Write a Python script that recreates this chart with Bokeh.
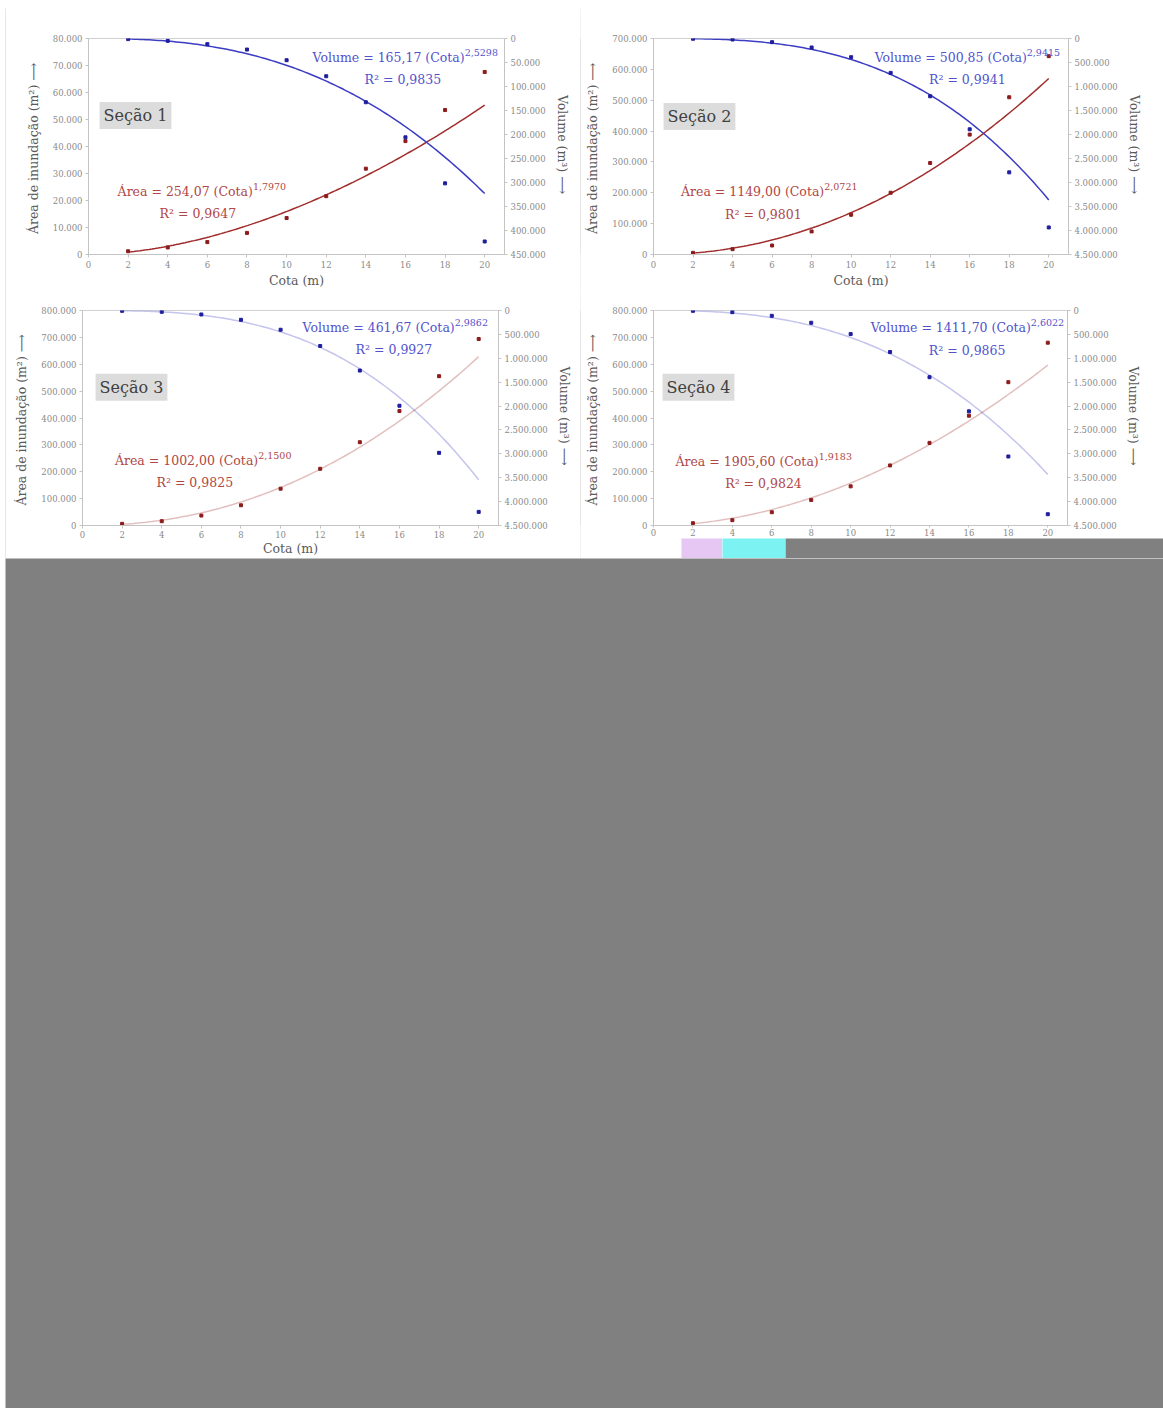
import numpy as np
from bokeh.plotting import figure
from bokeh.models import Range1d, LinearAxis, Label, FixedTicker, CustomJSTickFormatter
from bokeh.layouts import column, row
from bokeh.embed import file_html
from bokeh.resources import INLINE

# ---------------- data ----------------
cota = [2, 4, 6, 8, 10, 12, 14, 16, 18, 20]
secoes = ["Seção 1", "Seção 2", "Seção 3", "Seção 4"]

area_s1 = [1200, 2600, 4600, 8000, 13500, 21600, 31800, 42000, 53500, 67600]
vol_s1 = [1300, 4900, 11800, 23000, 45200, 78600, 132800, 205900, 301800, 422900]
area_s2 = [5400, 17300, 29200, 74700, 128800, 200200, 296500, 388500, 509600, 642700]
vol_s2 = [5000, 20900, 76500, 187800, 389500, 716400, 1203200, 1891800, 2789000, 3936500]
area_s3 = [6200, 16000, 37000, 75300, 137000, 211000, 309900, 425900, 555600, 693900]
vol_s3 = [7000, 27800, 83300, 194400, 402800, 743000, 1256900, 1993000, 2979000, 4215000]
area_s4 = [8600, 19800, 49400, 95100, 145700, 223500, 307400, 408600, 533300, 680200]
vol_s4 = [7000, 34700, 111100, 256900, 493000, 868000, 1395800, 2111000, 3055600, 4263800]

# power fits shown on the chart: y = coef * Cota^exp
area_coef = [254.07, 1149.00, 1002.00, 1905.60]
area_exp = [1.7970, 2.0721, 2.1500, 1.9183]
area_r2 = [0.9647, 0.9801, 0.9825, 0.9824]
vol_coef = [165.17, 500.85, 461.67, 1411.70]
vol_exp = [2.5298, 2.9415, 2.9862, 2.6022]
vol_r2 = [0.9835, 0.9941, 0.9927, 0.9865]

# axis extents and tick steps
x_ticks = [0, 2, 4, 6, 8, 10, 12, 14, 16, 18, 20]
area_max = [80000, 700000, 800000, 800000]
area_step = [10000, 100000, 100000, 100000]
vol_max = [450000, 4500000, 4500000, 4500000]
vol_step = [50000, 500000, 500000, 500000]

areas = [area_s1, area_s2, area_s3, area_s4]
vols = [vol_s1, vol_s2, vol_s3, vol_s4]

# ---------------- styles / layout ----------------
FONT = "DejaVu Serif"
BLUE_LINE, RED_LINE = "#3c3cc4", "#a02c2c"
BLUE_PT, RED_PT = "#1e1e9e", "#8c1c1c"
BLUE_TXT, RED_TXT = "#5252cc", "#b04646"
GRAY = "#808080"
RULE = "#cfcfcf"

# (width, height, (left, right, top, bottom) borders)
sizes = [
    (574, 282, (82, 76, 30, 36)),
    (582, 282, (72, 95, 30, 36)),
    (574, 268, (76, 82, 20, 32)),
    (582, 248, (72, 96, 20, 12)),
]
# label positions in data coords of the left axis
lay = [
    dict(sec=(0.56, 51500), vol=(18.99, 72970), vr2=(15.87, 64800), area=(8.30, 23300), ar2=(5.52, 15190)),
    dict(sec=(0.51, 447000), vol=(18.89, 638400), vr2=(15.88, 567100), area=(8.64, 204200), ar2=(5.56, 129600)),
    dict(sec=(0.66, 514800), vol=(18.79, 737000), vr2=(15.72, 655600), area=(8.87, 240700), ar2=(5.67, 159300)),
    dict(sec=(0.46, 514800), vol=(19.14, 737000), vr2=(15.91, 651900), area=(8.38, 237000), ar2=(5.58, 155600)),
]
faded = [False, False, True, True]

fmt = CustomJSTickFormatter(code=r"""
return Math.round(tick).toString().replace(/\B(?=(\d{3})+(?!\d))/g, '.');
""")


def br(v, nd):
    return f"{v:.{nd}f}".replace(".", ",")


def style_axis(ax, standoff):
    ax.axis_line_color = "#c4c4c4"
    ax.major_tick_line_color = "#c4c4c4"
    ax.minor_tick_line_color = None
    ax.major_tick_out = 3
    ax.major_tick_in = 0
    ax.major_label_standoff = 3
    ax.major_label_text_font = FONT
    ax.major_label_text_font_size = "8.5px"
    ax.major_label_text_color = "#8a8a8a"
    ax.axis_label_text_font = FONT
    ax.axis_label_text_font_size = "12.5px"
    ax.axis_label_text_font_style = "normal"
    ax.axis_label_text_color = "#5a5a5a"
    ax.axis_label_standoff = standoff


def make_panel(i):
    w, h, (bl, brr, bt, bb) = sizes[i]
    p = figure(width=w, height=h, x_range=Range1d(0, 21), y_range=Range1d(0, area_max[i]),
               toolbar_location=None, output_backend="svg",
               min_border_left=bl, min_border_right=brr, min_border_top=bt, min_border_bottom=bb)
    p.extra_y_ranges = {"vol": Range1d(start=vol_max[i], end=0)}
    p.xgrid.visible = False
    p.ygrid.visible = False
    p.outline_line_color = "#d0d0d0"
    p.background_fill_color = "white"

    # axes
    p.xaxis.ticker = FixedTicker(ticks=x_ticks)
    p.yaxis.ticker = FixedTicker(ticks=list(range(0, area_max[i] + 1, area_step[i])))
    p.yaxis.formatter = fmt
    p.yaxis.axis_label = "Área de inundação (m²)  ⟶"
    if i < 3:
        p.xaxis.axis_label = "Cota (m)"
    right = LinearAxis(y_range_name="vol",
                       ticker=FixedTicker(ticks=list(range(0, vol_max[i] + 1, vol_step[i]))),
                       formatter=fmt, axis_label="Volume (m³)  ⟶")
    p.add_layout(right, "right")
    style_axis(p.xaxis[0], 2)
    style_axis(p.yaxis[0], 9)
    style_axis(right, 6)
    if i >= 2:
        p.xaxis.axis_label_standoff = 0
        p.xaxis.major_label_standoff = 2
    if i == 3:
        p.xaxis.major_label_standoff = 1
        p.xaxis.major_tick_out = 2

    # fitted curves
    xs = np.linspace(cota[0], cota[-1], 120)
    ya = area_coef[i] * xs ** area_exp[i]
    yv = vol_coef[i] * xs ** vol_exp[i]
    a = 0.3 if faded[i] else 1.0
    p.line(xs, ya, line_color=RED_LINE, line_width=1.5, line_alpha=a)
    p.line(xs, yv, line_color=BLUE_LINE, line_width=1.5, line_alpha=a, y_range_name="vol")

    # points
    p.scatter(cota, areas[i], marker="square", size=3, color=RED_PT)
    p.scatter(cota, vols[i], marker="square", size=3, color=BLUE_PT, y_range_name="vol")

    L = lay[i]
    # section box
    p.add_layout(Label(x=L["sec"][0], y=L["sec"][1], text=secoes[i], text_font=FONT,
                       text_font_size="16px", text_color="#404040", text_baseline="middle",
                       background_fill_color="#dcdcdc", padding=4))
    # volume equation
    vx, vy = L["vol"]
    p.add_layout(Label(x=vx, y=vy, text=f"Volume = {br(vol_coef[i], 2)} (Cota)", text_font=FONT,
                       text_font_size="12.5px", text_color=BLUE_TXT, text_align="right",
                       text_baseline="middle"))
    p.add_layout(Label(x=vx, y=vy, y_offset=5, text=br(vol_exp[i], 4), text_font=FONT,
                       text_font_size="9.5px", text_color=BLUE_TXT, text_align="left",
                       text_baseline="middle"))
    p.add_layout(Label(x=L["vr2"][0], y=L["vr2"][1], text=f"R² = {br(vol_r2[i], 4)}", text_font=FONT,
                       text_font_size="12.5px", text_color=BLUE_TXT, text_align="center",
                       text_baseline="middle"))
    # area equation
    ax_, ay_ = L["area"]
    p.add_layout(Label(x=ax_, y=ay_, text=f"Área = {br(area_coef[i], 2)} (Cota)", text_font=FONT,
                       text_font_size="12.5px", text_color=RED_TXT, text_align="right",
                       text_baseline="middle"))
    p.add_layout(Label(x=ax_, y=ay_, y_offset=5, text=br(area_exp[i], 4), text_font=FONT,
                       text_font_size="9.5px", text_color=RED_TXT, text_align="left",
                       text_baseline="middle"))
    p.add_layout(Label(x=L["ar2"][0], y=L["ar2"][1], text=f"R² = {br(area_r2[i], 4)}", text_font=FONT,
                       text_font_size="12.5px", text_color=RED_TXT, text_align="center",
                       text_baseline="middle"))
    return p


def block(w, h, color):
    b = figure(width=w, height=h, toolbar_location=None, output_backend="svg",
               x_range=Range1d(0, 1), y_range=Range1d(0, 1), min_border=0,
               background_fill_color=color, border_fill_color=color, outline_line_color=None)
    b.axis.visible = False
    b.grid.visible = False
    return b


p1, p2, p3, p4 = [make_panel(i) for i in range(4)]

top = row(block(5, 8, "white"), column(block(1158, 7, "white"), block(1158, 1, RULE)))
strip = row(block(100, 20, "white"), block(41, 20, "#e6c6f2"), block(63, 20, "#7cf2f2"),
            block(378, 20, GRAY))
panels = column(
    row(p1, block(1, 282, RULE), p2),
    row(p3, block(1, 268, RULE), column(p4, strip)),
)
middle = row(block(5, 550, "white"), block(1, 550, RULE), panels)
bottom = row(block(5, 850, "white"), block(1158, 850, GRAY))
layout = column(top, middle, bottom)

open("out.html", "w").write(file_html(layout, INLINE))
